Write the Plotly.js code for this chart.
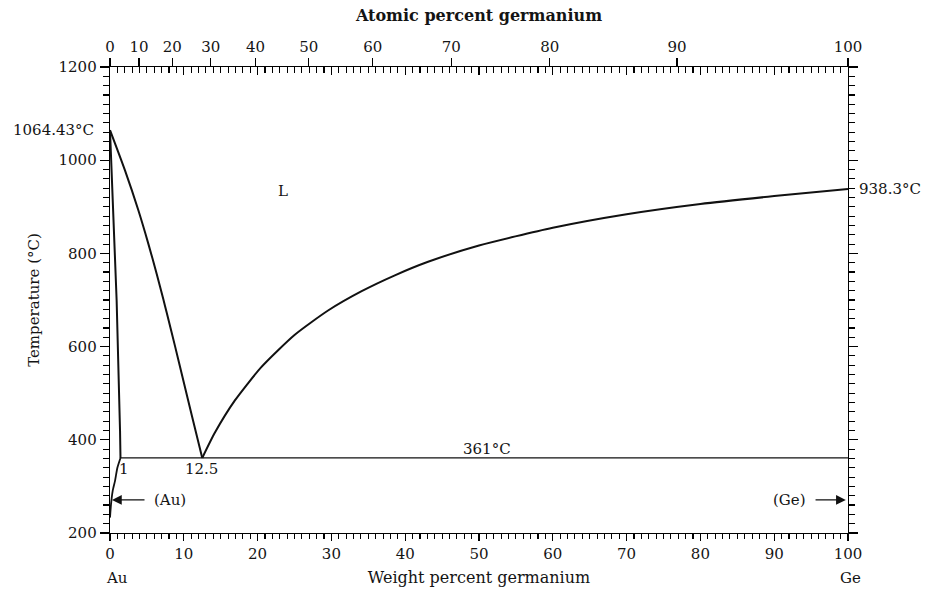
<!DOCTYPE html>
<html><head><meta charset="utf-8">
<script src="https://cdn.plot.ly/plotly-3.0.1.min.js"></script>
<style>html,body{margin:0;padding:0;background:#fff}#chart{width:928px;height:590px}</style>
</head><body><div id="chart"></div>
<script>
// Liquidus (Au side), wt% Ge vs °C
const liqLeftX = [0, 2.03, 3.83, 5.19, 6.33, 7.22, 7.68, 8.81, 9.93, 11.07, 11.96, 12.5];
const liqLeftT = [1064.43, 978, 893, 821, 756, 702, 673, 601, 528, 453, 396, 361];
// Liquidus (Ge side)
const liqRightX = [12.5, 14.2, 16.9, 20.5, 25, 29.6, 34.1, 38.6, 43.1, 50, 60, 70, 80, 90, 100];
const liqRightT = [361, 415, 484, 556, 625, 678, 719, 753, 782, 817, 855, 884, 906, 923, 938.3];
// Solidus of (Au)
const solidusX = [0, 0.68, 0.9, 1.36, 1.42];
const solidusT = [1064.43, 806, 699, 419, 361];
// Solvus of (Au)
const solvusX = [1.42, 1.0, 0.68, 0.36, 0.14, 0];
const solvusT = [361, 340, 312, 290, 262, 233];
// Eutectic isotherm
const eutecticX = [1.42, 100];
const eutecticT = [361, 361];

const wtTicks = [0, 10, 20, 30, 40, 50, 60, 70, 80, 90, 100];
const tempTicks = [200, 400, 600, 800, 1000, 1200];
const atTicks = [0, 10, 20, 30, 40, 50, 60, 70, 80, 90, 100];
const M_AU = 196.97, M_GE = 72.63;

function atToWt(a) {
  return 100 * a * M_GE / (a * M_GE + (100 - a) * M_AU);
}

const FONT = "DejaVu Serif";
const INK = "#141414";

const lineStyle = w => ({color: "#111", width: w});
const traces = [
  {x: liqLeftX, y: liqLeftT, mode: "lines", line: Object.assign(lineStyle(2), {shape: "spline", smoothing: 0.6}), hoverinfo: "skip"},
  {x: liqRightX, y: liqRightT, mode: "lines", line: Object.assign(lineStyle(2), {shape: "spline", smoothing: 0.6}), hoverinfo: "skip"},
  {x: solidusX, y: solidusT, mode: "lines", line: lineStyle(2), hoverinfo: "skip"},
  {x: solvusX, y: solvusT, mode: "lines", line: Object.assign(lineStyle(1.8), {shape: "spline", smoothing: 0.6}), hoverinfo: "skip"},
  {x: eutecticX, y: eutecticT, mode: "lines", line: lineStyle(1.3), hoverinfo: "skip"},
  {x: [], y: [], xaxis: "x2", yaxis: "y", mode: "lines", hoverinfo: "skip"},
  {x: [], y: [], xaxis: "x3", yaxis: "y", mode: "lines", hoverinfo: "skip"}
];

const axBase = {
  showgrid: false, zeroline: false, showline: true, linecolor: "#000", linewidth: 1.3,
  tickcolor: "#000", tickwidth: 1.3, tickfont: {family: FONT, size: 15, color: INK}
};

const layout = {
  width: 928, height: 590,
  margin: {l: 110, r: 80, t: 67, b: 57},
  paper_bgcolor: "#fff", plot_bgcolor: "#fff",
  showlegend: false,
  font: {family: FONT, size: 15, color: INK},
  title: {
    text: "<b>Atomic percent germanium</b>",
    font: {family: FONT, size: 16, color: INK},
    x: 0.5, xref: "paper", xanchor: "center",
    y: 1 - 15 / 590, yref: "container", yanchor: "middle"
  },
  xaxis: Object.assign({}, axBase, {
    range: [0, 100], tickmode: "array", tickvals: wtTicks, ticktext: wtTicks.map(String),
    ticks: "outside", ticklen: 7,
    minor: {tick0: 0, dtick: 1, ticks: "outside", ticklen: 5, tickwidth: 1.1, tickcolor: "#000"},
    title: {text: "Weight percent germanium", font: {family: FONT, size: 16, color: INK}, standoff: 9}
  }),
  xaxis2: Object.assign({}, axBase, {
    overlaying: "x", side: "top", anchor: "y", range: [0, 100],
    tickmode: "array", tickvals: atTicks.map(atToWt), ticktext: atTicks.map(String),
    ticks: "outside", ticklen: 8
  }),
  xaxis3: Object.assign({}, axBase, {
    overlaying: "x", side: "top", anchor: "y", range: [0, 100],
    tickmode: "linear", tick0: 0, dtick: 10, showticklabels: false,
    ticks: "inside", ticklen: 8,
    minor: {tick0: 0, dtick: 1, ticks: "inside", ticklen: 6, tickwidth: 1.1, tickcolor: "#000"}
  }),
  yaxis: Object.assign({}, axBase, {
    range: [200, 1200], tickmode: "array", tickvals: tempTicks, ticktext: tempTicks.map(String),
    ticks: "outside", ticklen: 9, mirror: "ticks",
    minor: {tick0: 200, dtick: 20, ticks: "outside", ticklen: 6, tickwidth: 1.1, tickcolor: "#000"},
    title: {text: "Temperature (°C)", font: {family: FONT, size: 15, color: INK}, standoff: 15}
  }),
  annotations: [
    {x: 23.4, y: 933, text: "L", showarrow: false, font: {size: 15}},
    {x: 51.1, y: 380, text: "361°C", showarrow: false, font: {size: 15}},
    {x: 1.95, y: 338, text: "1", showarrow: false, font: {size: 15}},
    {x: 12.4, y: 338, text: "12.5", showarrow: false, font: {size: 15}},
    {xref: "paper", x: 0, xanchor: "right", xshift: -14, y: 1064.43, text: "1064.43°C", showarrow: false, font: {size: 15}},
    {xref: "paper", x: 1, xanchor: "left", xshift: 9, y: 938.3, text: "938.3°C", showarrow: false, font: {size: 15}},
    {x: 8.13, y: 271, text: "(Au)", showarrow: false, font: {size: 15}},
    {x: 92.1, y: 271, text: "(Ge)", showarrow: false, font: {size: 15}},
    {x: 0.27, y: 271, ax: 4.88, ay: 271, axref: "x", ayref: "y", text: "", showarrow: true,
     arrowhead: 2, arrowsize: 1.5, arrowwidth: 1.3, arrowcolor: "#111", standoff: 0, startstandoff: 0},
    {x: 99.7, y: 271, ax: 95.4, ay: 271, axref: "x", ayref: "y", text: "", showarrow: true,
     arrowhead: 2, arrowsize: 1.5, arrowwidth: 1.3, arrowcolor: "#111", standoff: 0, startstandoff: 0},
    {xref: "x", x: 0, xanchor: "left", xshift: -6, yref: "paper", y: 0, yanchor: "middle", yshift: -45,
     text: "Au", showarrow: false, font: {size: 15}},
    {xref: "x", x: 100, xanchor: "center", xshift: 2, yref: "paper", y: 0, yanchor: "middle", yshift: -45,
     text: "Ge", showarrow: false, font: {size: 15}}
  ]
};

Plotly.newPlot("chart", traces, layout, {displayModeBar: false, staticPlot: true});
</script>
</body></html>
